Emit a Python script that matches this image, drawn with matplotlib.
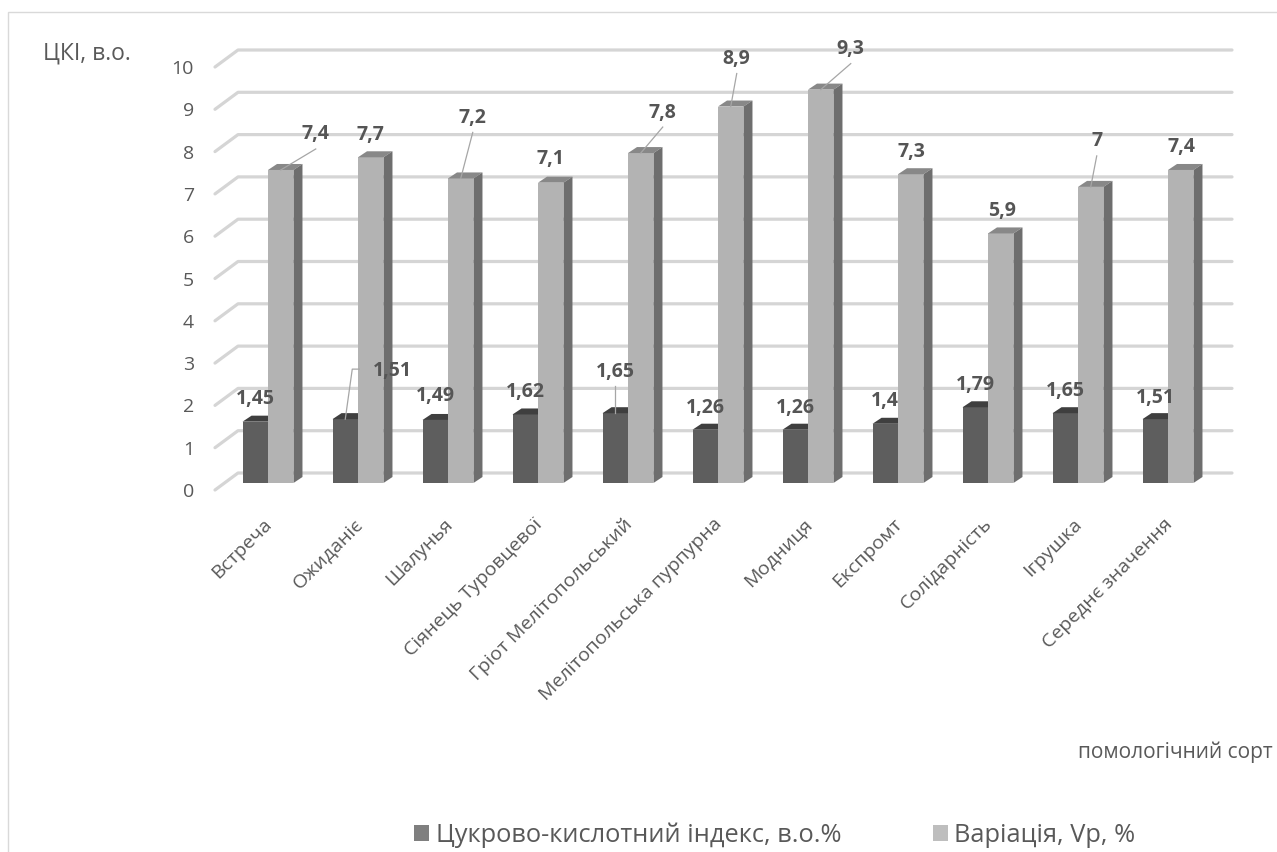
import matplotlib
matplotlib.use('Agg')
import matplotlib.pyplot as plt
from matplotlib.patches import Polygon, Rectangle, Patch
import numpy as np

plt.rcParams['font.family'] = ['Open Sans', 'DejaVu Sans']

# ---------------- data ----------------
categories = ['Встреча', 'Ожиданіє', 'Шалунья', 'Сіянець Туровцевої',
              'Гріот Мелітопольський', 'Мелітопольська пурпурна', 'Модниця',
              'Експромт', 'Солідарність', 'Ігрушка', 'Середнє значення']
sugar_acid_index = [1.45, 1.51, 1.49, 1.62, 1.65, 1.26, 1.26, 1.40, 1.79, 1.65, 1.51]
variation = [7.4, 7.7, 7.2, 7.1, 7.8, 8.9, 9.3, 7.3, 5.9, 7.0, 7.4]
y_ticks = list(range(0, 11))
series_names = ['Цукрово-кислотний індекс, в.о.%', 'Варіація, Vp, %']
y_title = 'ЦКІ, в.о.'
x_title = 'помологічний сорт'

# -------------- layout / style --------------
W, H, DPI = 1277, 852, 100
TXT = '#595959'
GRID = '#d5d5d5'
DARK_FRONT, DARK_TOP = '#5e5e5e', '#3f3f3f'
LIGHT_FRONT, LIGHT_TOP, LIGHT_SIDE = '#b3b3b3', '#888888', '#6e6e6e'

# label offsets (px right, px up) from the front-top centre of each bar
dark_label_off = [(0, 24), (47, 50), (0, 25), (0, 24), (0, 43), (0, 23), (0, 23),
                  (0, 24), (0, 24), (0, 24), (0, 23)]
dark_leader = [None, 'left', None, None, 'below', None, None, None, None, None, None]
light_label_off = [(35, 37), (0, 24), (12, 62), (0, 25), (22, 42), (6, 49), (30, 42),
                   (1, 24), (1, 24), (6, 47), (1, 24)]
light_leader = ['below', None, 'below', None, 'below', 'below', 'below',
                None, None, 'below', None]

fig = plt.figure(figsize=(W / DPI, H / DPI), dpi=DPI)
ax_left_px, ax_right_px, ax_top_px, ax_bot_px = 196, 1240, 60, 483
ax = fig.add_axes([ax_left_px / W, (H - ax_bot_px) / H,
                   (ax_right_px - ax_left_px) / W, (ax_bot_px - ax_top_px) / H])
xmin, xmax = -0.8, 10.8
ax.set_xlim(xmin, xmax)
ax.set_ylim(0, 10)
ax.axis('off')

ppx = (ax_right_px - ax_left_px) / (xmax - xmin)   # px per category unit
ppy = (ax_bot_px - ax_top_px) / 10.0               # px per value unit

def dx(p):
    return p / ppx

def dy(p):
    return p / ppy

x = np.arange(len(categories))
w = 0.283
depth_x, depth_y = dx(9), dy(6)

# gridlines (back wall + left wall diagonal)
gx0, gx1, gx2 = xmin + dx(19), xmin + dx(42), xmin + dx(1036)
for v in y_ticks:
    ax.plot([gx0, gx1, gx2], [v - dy(7), v + dy(10), v + dy(10)], color=GRID,
            lw=2.3, solid_capstyle='round', solid_joinstyle='round',
            zorder=0, clip_on=False)
    ax.text(xmin - dx(2), v - dy(14), str(v), ha='right', va='baseline',
            fontsize=14, color=TXT, clip_on=False)

# bars
dark_x = x - w / 2
light_x = x + w / 2
ax.bar(dark_x, sugar_acid_index, w, color=DARK_FRONT, zorder=2, clip_on=False)
ax.bar(light_x, variation, w, color=LIGHT_FRONT, zorder=4, clip_on=False)

def faces(xc, v, top_c, side_c, z):
    x0, x1 = xc - w / 2, xc + w / 2
    top = Polygon([(x0, v), (x1, v), (x1 + depth_x, v + depth_y), (x0 + depth_x, v + depth_y)],
                  closed=True, facecolor=top_c, edgecolor='none', zorder=z, clip_on=False)
    side = Polygon([(x1, 0), (x1 + depth_x, depth_y), (x1 + depth_x, v + depth_y), (x1, v)],
                   closed=True, facecolor=side_c, edgecolor='none', zorder=z, clip_on=False)
    ax.add_patch(top)
    ax.add_patch(side)

for xc, v in zip(dark_x, sugar_acid_index):
    faces(xc, v, DARK_TOP, DARK_TOP, 3)
for xc, v in zip(light_x, variation):
    faces(xc, v, LIGHT_TOP, LIGHT_SIDE, 5)

def fmt(v):
    return f'{v:g}'.replace('.', ',')

def put_labels(xs, vals, offs, leaders):
    for xc, v, (ox, oy), ld in zip(xs, vals, offs, leaders):
        lx, ly = xc + dx(ox), v + dy(oy)
        ax.text(lx, ly - dy(6.5), fmt(v), ha='center', va='baseline', fontsize=14,
                fontweight='bold', color='#555555', zorder=10, clip_on=False)
        if ld == 'below':
            ax.plot([lx, xc], [ly - dy(16), v], color='#a6a6a6', lw=0.9,
                    zorder=9, clip_on=False)
        elif ld == 'left':
            ax.plot([lx - dx(33), lx - dx(40), xc], [ly, ly, v], color='#a6a6a6',
                    lw=0.9, zorder=9, clip_on=False)

put_labels(dark_x, sugar_acid_index, dark_label_off, dark_leader)
put_labels(light_x, variation, light_label_off, light_leader)

# category labels
for xi, cat in zip(x, categories):
    ax.text(xi - dx(5), -dy(32), cat, rotation=45, ha='right', va='top',
            rotation_mode='anchor', fontsize=14, color=TXT, clip_on=False)

# titles
fig.text(43 / W, 1 - 59 / H, y_title, ha='left', va='baseline', fontsize=16.5, color=TXT)
fig.text(1273 / W, 1 - 758 / H, x_title, ha='right', va='baseline', fontsize=15, color=TXT)

# legend
handles = [Patch(facecolor='#7f7f7f'), Patch(facecolor='#bebebe')]
fig.legend(handles, series_names, ncol=2, frameon=False, loc='center left',
           bbox_to_anchor=(414 / W, 1 - 835 / H), fontsize=18.3, labelcolor=TXT,
           handlelength=0.6, handleheight=0.6, handletextpad=0.25,
           columnspacing=3.6, borderpad=0, borderaxespad=0)

# chart border
fig.add_artist(Rectangle((8 / W, -0.05), 1.2, (H - 12) / H + 0.05,
                         transform=fig.transFigure, fill=False,
                         edgecolor='#d9d9d9', lw=1.0))

fig.savefig('out.png', dpi=DPI, facecolor='white')
